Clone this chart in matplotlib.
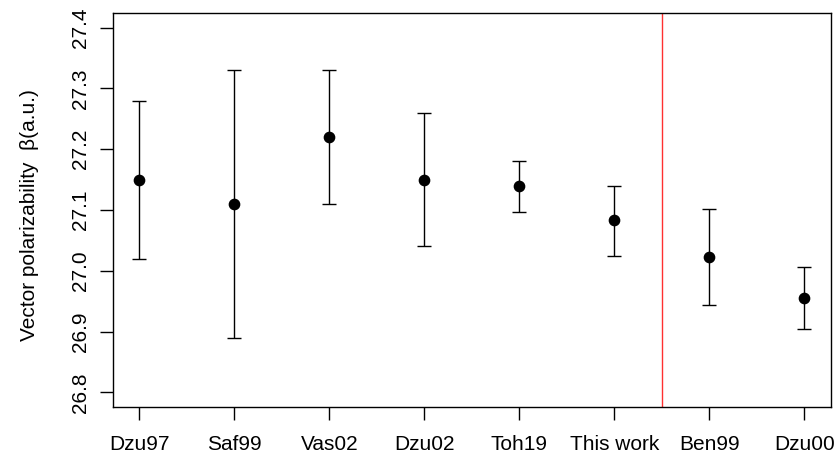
import matplotlib
matplotlib.use("Agg")
import matplotlib.pyplot as plt

plt.rcParams["font.family"] = ["Liberation Sans", "DejaVu Sans"]

labels = ["Dzu97", "Saf99", "Vas02", "Dzu02", "Toh19", "This work", "Ben99", "Dzu00"]
beta = [27.15, 27.11, 27.22, 27.15, 27.139, 27.083, 27.023, 26.956]
upper = [27.28, 27.33, 27.33, 27.26, 27.18, 27.139, 27.102, 27.007]
lower = [27.02, 26.89, 27.11, 27.04, 27.096, 27.025, 26.943, 26.905]
yticks = [26.8, 26.9, 27.0, 27.1, 27.2, 27.3, 27.4]
split_at = 6.5  # theory | experiment divider

W, H = 835, 455
fig = plt.figure(figsize=(W / 100, H / 100), dpi=100)
ax = fig.add_axes([112.7 / W, 1 - 407 / H, (831 - 112.7) / W, (407 - 13) / H])

x = list(range(1, len(labels) + 1))
err_lo = [b - l for b, l in zip(beta, lower)]
err_hi = [u - b for u, b in zip(upper, beta)]
ax.errorbar(x, beta, yerr=[err_lo, err_hi], fmt="o", color="black",
            ms=7.4, elinewidth=1.0, capsize=4.8, capthick=1.0)
ax.axvline(split_at, color="#ff3030", lw=1.0)

ax.set_xlim(0.72, 8.28)
ax.set_ylim(26.776, 27.424)
ax.set_xticks(x)
ax.set_xticklabels(labels)
ax.set_yticks(yticks)
ax.set_yticklabels([f"{v:.1f}" for v in yticks], rotation=90, va="center")

for s in ax.spines.values():
    s.set_linewidth(1.0)
ax.tick_params(axis="both", length=9.4, width=1.0, labelsize=15)
ax.tick_params(axis="x", pad=10.5)
ax.tick_params(axis="y", pad=7)

fig.text(30 / W, 1 - 215 / H, "Vector polarizability  \u03b2(a.u.)",
         rotation=90, ha="center", va="center", fontsize=15)

fig.savefig("out.png", dpi=100)
